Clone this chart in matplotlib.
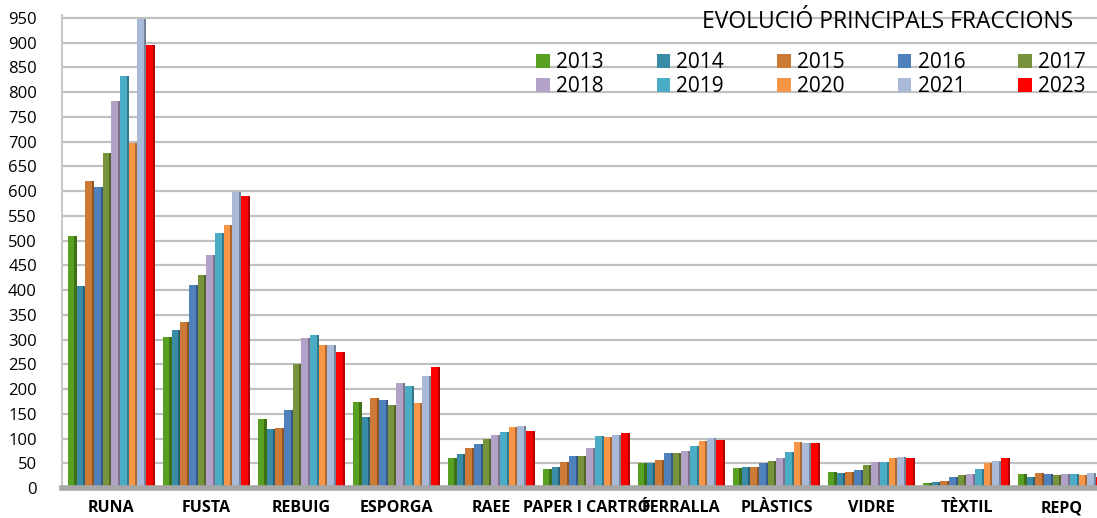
import matplotlib
matplotlib.use('Agg')
import matplotlib.pyplot as plt
import matplotlib.colors as mcolors
import numpy as np

plt.rcParams['font.family'] = ['Open Sans', 'DejaVu Sans']

# dades
categories = ['RUNA', 'FUSTA', 'REBUIG', 'ESPORGA', 'RAEE', 'PAPER I CARTRÓ',
              'FERRALLA', 'PLÀSTICS', 'VIDRE', 'TÈXTIL', 'REPQ']
years = ['2013', '2014', '2015', '2016', '2017', '2018', '2019', '2020', '2021', '2023']

v2013 = [510, 306, 140, 174, 61, 39, 50, 40, 33, 10, 28]
v2014 = [408, 320, 119, 143, 69, 42, 50, 42, 30, 13, 23]
v2015 = [620, 335, 122, 181, 81, 52, 57, 43, 32, 15, 31]
v2016 = [608, 410, 158, 178, 89, 65, 70, 50, 37, 22, 28]
v2017 = [678, 431, 251, 168, 99, 65, 70, 55, 47, 27, 27]
v2018 = [782, 471, 303, 212, 107, 80, 74, 60, 52, 29, 28]
v2019 = [833, 515, 309, 206, 113, 105, 85, 72, 52, 38, 29]
v2020 = [697, 532, 289, 172, 123, 104, 94, 92, 60, 50, 26]
v2021 = [948, 598, 289, 227, 126, 107, 102, 91, 62, 55, 30]
v2023 = [895, 591, 274, 245, 115, 112, 98, 91, 60, 60, 22]
series = [v2013, v2014, v2015, v2016, v2017, v2018, v2019, v2020, v2021, v2023]

colors = ['#58A021', '#3A8BA5', '#CD7A37', '#4F81BD', '#77933C',
          '#B3A2C7', '#4BACC6', '#F79646', '#A9B9D8', '#FF0000']

fig = plt.figure(figsize=(10.97, 5.18), dpi=100)
ax = fig.add_axes([62/1097, 30/518, 1 - 62/1097, (488 - 15)/518])

x = np.arange(len(categories))
bw = 0.0915
for i, (vals, c) in enumerate(zip(series, colors)):
    pos = x + (i - 4.5) * bw
    dark = tuple(np.array(mcolors.to_rgb(c)) * 0.7)
    ax.bar(pos, vals, width=bw, color=c, zorder=3, label=years[i])
    # cara lateral fosca (efecte 3D), dins l'amplada de la barra
    ax.bar(pos + bw*0.25, vals, width=bw*0.25, align='edge', color=dark, zorder=3)

ax.set_xlim(-0.52, 10.375)
ax.set_ylim(0, 956)
ax.set_yticks(np.arange(0, 951, 50))
ax.yaxis.grid(True, color='#C0C0C0', lw=1.6, zorder=0)
ax.set_axisbelow(True)
ax.tick_params(axis='y', length=0, pad=18, labelsize=12)
ax.tick_params(axis='x', length=0, pad=9, labelsize=11.5)
ax.set_xticks(x)
ax.set_xticklabels(categories, fontweight='bold')

for s in ['top', 'right']:
    ax.spines[s].set_visible(False)
ax.spines['left'].set_color('#C8C8C8')
ax.spines['left'].set_linewidth(1.5)
ax.spines['bottom'].set_color('#A6A6A6')
ax.spines['bottom'].set_linewidth(4)
ax.spines['bottom'].set_zorder(4)

fig.text(1073/1097, 1 - 22/518, 'EVOLUCIÓ PRINCIPALS FRACCIONS', ha='right', va='center', fontsize=16.5)

# llegenda per files (matplotlib omple per columnes)
handles, labels = ax.get_legend_handles_labels()
order = [k for j in range(5) for k in (j, j + 5)]
fig.legend([handles[k] for k in order], [labels[k] for k in order], ncol=5, loc='upper left',
           bbox_to_anchor=(536/1097, 1 - 52/518),
           frameon=False, fontsize=15, handlelength=0.65, handleheight=0.65, handletextpad=0.3,
           columnspacing=2.55, labelspacing=0.15, borderpad=0, borderaxespad=0)

fig.savefig('out.png', dpi=100)
